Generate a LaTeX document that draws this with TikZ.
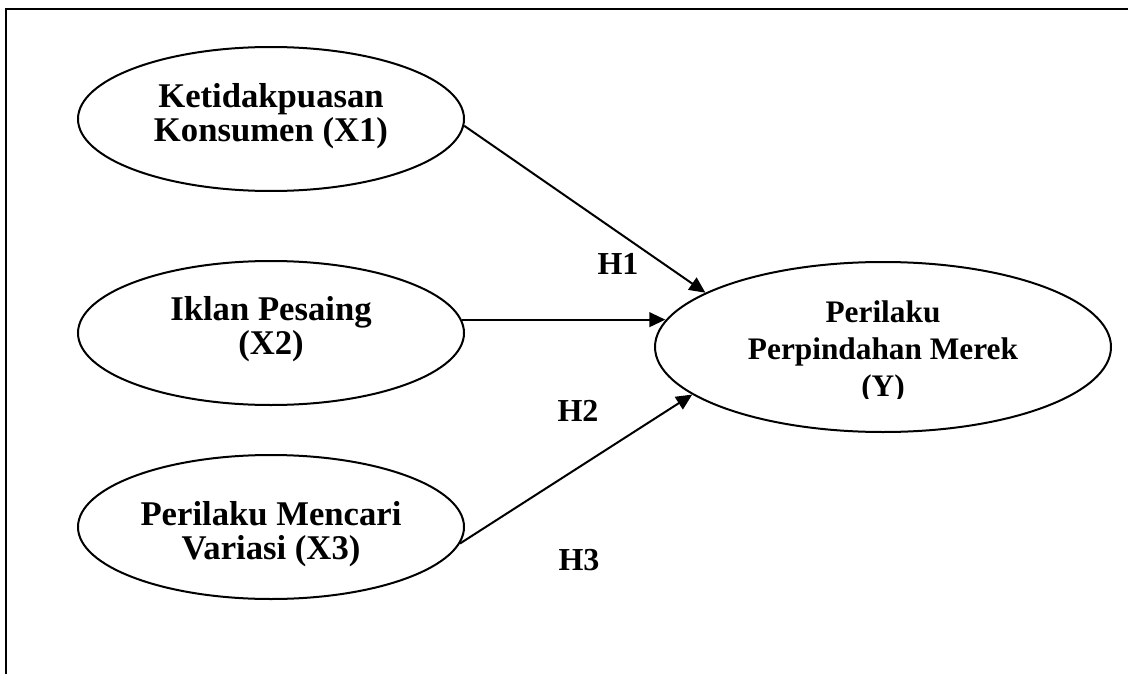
\documentclass[tikz,border=0pt]{standalone}
\usepackage{fontspec}
\setmainfont{Liberation Serif}
\usetikzlibrary{shapes.geometric,arrows.meta}

\begin{document}
\begin{tikzpicture}[x=0.75pt,y=-0.75pt,
    var/.style={draw, ellipse, line width=1.5pt, minimum width=289.5pt, minimum height=108pt, inner sep=0pt},
    vtxt/.style={align=center, inner sep=0pt, font=\fontsize{26}{25.5}\selectfont\bfseries},
    hyp/.style={font=\fontsize{24}{24}\selectfont\bfseries},
    arr/.style={-{Triangle[length=12pt,width=11pt]}, line width=1.5pt}]
            \useasboundingbox (0,0) rectangle (1128,674);
            \draw[line width=1.7pt] (1130,9) -- (6,9) -- (6,676);

            \node[var] (x1) at (271,119) {};
            \node[var] (x2) at (271,333) {};
            \node[var] (x3) at (271,527) {};
            \node[var, minimum width=342pt, minimum height=127.5pt] (y) at (883,347) {};

            \node[vtxt, yshift=2pt] (x1t) at (x1) {Ketidakpuasan\\Konsumen (X1)};
            \node[vtxt, yshift=3pt] (x2t) at (x2) {Iklan Pesaing\\(X2)};
            \node[vtxt, yshift=-5pt] (x3t) at (x3) {Perilaku Mencari\\Variasi (X3)};
            \begin{scope}
                \clip (655,260) rectangle (1112,398);
                \node[vtxt, anchor=north, font=\fontsize{23.5}{27.75}\selectfont\bfseries] (yt) at (883,300) {Perilaku\\Perpindahan Merek\\(Y)};
            \end{scope}

            \draw[arr] (x1.-2) -- (y.163);
            \draw[arr] (x2.4) -- (x2.4 -| y.173);
            \draw[arr] (x3.-5) -- (y.194);

            \node[hyp] (h1) at (618,264) {H1};
            \node[hyp] (h2) at (578,411) {H2};
            \node[hyp] (h3) at (579,560) {H3};
        \end{tikzpicture}
\end{document}
